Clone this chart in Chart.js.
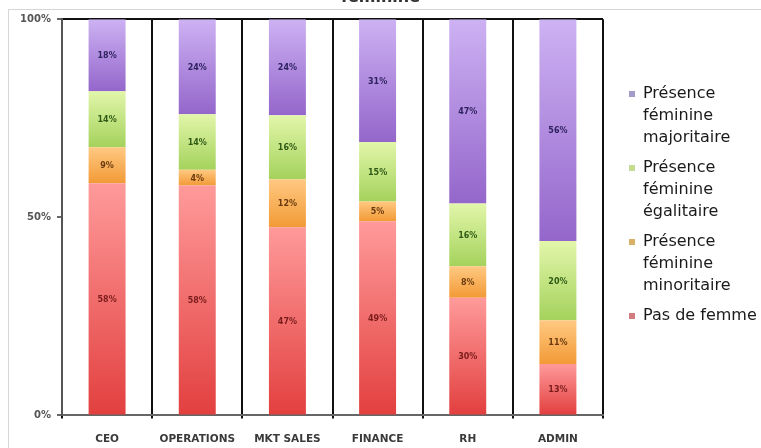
<!DOCTYPE html>
<html>
<head>
<meta charset="utf-8">
<script src="https://cdn.jsdelivr.net/npm/chart.js@4"></script>
<style>
  html, body { margin: 0; padding: 0; background: #fff; overflow: hidden; }
  #wrap { position: relative; width: 761px; height: 473px; margin-top: -12px; }
</style>
</head>
<body>
<div id="wrap"><canvas id="chart"></canvas></div>
<script>
const categories = ["CEO", "OPERATIONS", "MKT SALES", "FINANCE", "RH", "ADMIN"];
const pasDeFemme = [58, 58, 47, 49, 30, 13];
const minoritaire = [9, 4, 12, 5, 8, 11];
const egalitaire = [14, 14, 16, 15, 16, 20];
const majoritaire = [18, 24, 24, 31, 47, 56];
const yTicks = [0, 50, 100];

const seriesValues = [pasDeFemme, minoritaire, egalitaire, majoritaire];
const seriesLines = [
    ["Pas de femme"],
    ["Présence", "féminine", "minoritaire"],
    ["Présence", "féminine", "égalitaire"],
    ["Présence", "féminine", "majoritaire"]
];
// top / bottom colours of each segment, legend marker, label text
const segTop = ["#ff9a9a", "#ffc982", "#e2f6aa", "#cdb2f3"];
const segBottom = ["#e2403f", "#f29a36", "#a4d25c", "#9466cb"];
const markerColors = ["#d27c80", "#d8b066", "#c6dc92", "#a49cc8"];
const labelColors = ["#7a1c1c", "#6a3a0e", "#2f5a16", "#2e2260"];

// stack totals so each column fills 100 %
const totals = categories.map((c, j) => seriesValues.reduce((s, arr) => s + arr[j], 0));

const datasets = seriesValues.map((vals, i) => ({
    label: seriesLines[i].join(" "),
    data: vals.map((v, j) => v / totals[j] * 100),
    backgroundColor: segBottom[i],
    borderWidth: 0
}));

const outline = {
    id: "outline",
    beforeDraw(chart) {
        const ctx = chart.ctx;
        ctx.save();
        ctx.strokeStyle = "#d6d6d6";
        ctx.lineWidth = 1;
        ctx.beginPath();
        ctx.moveTo(8.5, chart.height);
        ctx.lineTo(8.5, 21.5);
        ctx.lineTo(chart.width, 21.5);
        ctx.stroke();
        ctx.restore();
    }
};

// legend box is measured too narrow for the wrapped labels, so fix its width
const legendWidth = {
    id: "legendWidth",
    beforeLayout(chart) {
        const lg = chart.legend;
        if (lg && !lg._fixed) {
            const fit = lg.fit;
            lg.fit = function() {
                fit.call(this);
                this.width = 140;
            };
            lg._fixed = true;
        }
    }
};

const segGradient = {
    id: "segGradient",
    beforeDatasetsDraw(chart) {
        const ctx = chart.ctx;
        chart.data.datasets.forEach((ds, i) => {
            chart.getDatasetMeta(i).data.forEach(bar => {
                const g = ctx.createLinearGradient(0, bar.y, 0, bar.base);
                g.addColorStop(0, segTop[i]);
                g.addColorStop(1, segBottom[i]);
                bar.options = Object.assign({}, bar.options, { backgroundColor: g });
            });
        });
    }
};

const segLabels = {
    id: "segLabels",
    afterDatasetsDraw(chart) {
        const ctx = chart.ctx;
        ctx.save();
        ctx.font = "bold 8px 'DejaVu Sans'";
        ctx.textAlign = "center";
        ctx.textBaseline = "middle";
        chart.data.datasets.forEach((ds, i) => {
            ctx.fillStyle = labelColors[i];
            chart.getDatasetMeta(i).data.forEach((bar, j) => {
                ctx.fillText(seriesValues[i][j] + "%", bar.x, (bar.y + bar.base) / 2 + 1);
            });
        });
        ctx.restore();
    }
};

Chart.defaults.font.family = "'DejaVu Sans', sans-serif";

new Chart(document.getElementById("chart"), {
    type: "bar",
    data: { labels: categories, datasets: datasets },
    plugins: [outline, legendWidth, segGradient, segLabels],
    options: {
        responsive: true,
        maintainAspectRatio: false,
        animation: false,
        layout: { padding: { top: 0, right: 0, bottom: 0, left: 0 } },
        datasets: { bar: { categoryPercentage: 1, barPercentage: 0.41 } },
        scales: {
            x: {
                stacked: true,
                grid: { offset: true, color: "#111", lineWidth: 2, tickLength: 3, tickColor: "#111" },
                border: { color: "#666", width: 2 },
                ticks: { color: "#3a3a3a", font: { size: 10.5, weight: "bold" }, padding: 15, maxRotation: 0 }
            },
            y: {
                stacked: true,
                min: 0,
                max: 100,
                afterBuildTicks: s => { s.ticks = yTicks.map(v => ({ value: v })); },
                afterFit: s => { s.width = 62; },
                grid: {
                    color: c => (c.tick && c.tick.value === 100 ? "#111" : "rgba(0,0,0,0)"),
                    lineWidth: 2,
                    tickLength: 5,
                    tickColor: "#666"
                },
                border: { color: "#555", width: 2 },
                ticks: { color: "#555", font: { size: 10, weight: "bold" }, padding: 6, callback: v => v + "%" }
            },
            gap: {
                position: "right",
                grid: { display: false },
                border: { display: false },
                ticks: { display: false },
                afterFit: s => { s.width = 18; }
            }
        },
        plugins: {
            title: {
                display: true,
                text: "féminine",
                color: "#333",
                font: { size: 16, weight: "bold" },
                padding: { top: 0, bottom: 12 }
            },
            legend: {
                position: "right",
                align: "start",
                title: { display: true, text: " ", font: { size: 10 }, padding: { top: 78, bottom: 0 } },
                labels: {
                    boxWidth: 6,
                    boxHeight: 6,
                    padding: 8,
                    color: "#1a1a1a",
                    font: { size: 16, lineHeight: 1.375 },
                    generateLabels: chart => chart.data.datasets.map((ds, i) => ({
                        text: seriesLines[i],
                        fillStyle: markerColors[i],
                        strokeStyle: markerColors[i],
                        fontColor: "#1a1a1a",
                        lineWidth: 0,
                        datasetIndex: i
                    })).reverse()
                }
            },
            tooltip: { enabled: false }
        }
    }
});
</script>
</body>
</html>
